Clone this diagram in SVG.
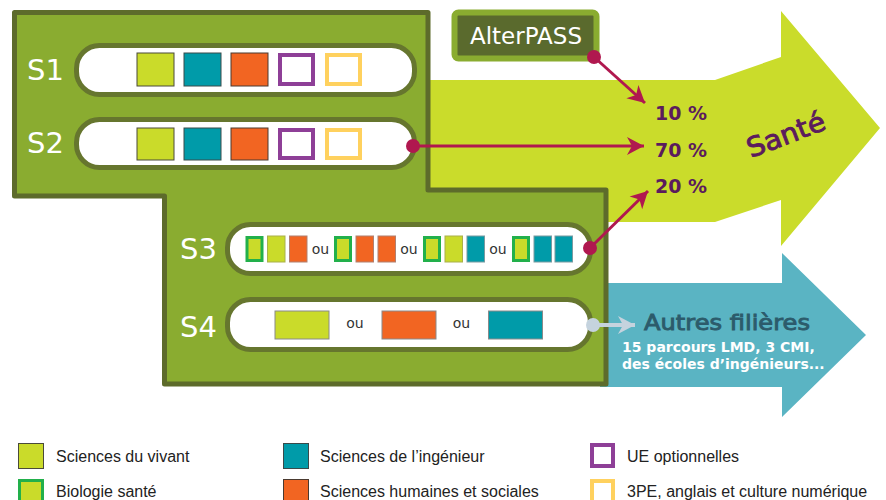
<svg xmlns="http://www.w3.org/2000/svg" width="886" height="500" viewBox="0 0 886 500">
<defs>
<style>
.lime{fill:#cadb2a;stroke:#4a4a3a;stroke-width:1}
.teal{fill:#009ba9;stroke:#3a4a4a;stroke-width:1}
.orng{fill:#f26522;stroke:#4a3a30;stroke-width:1}
.purp{fill:#fff;stroke:#8e3f97;stroke-width:4}
.yell{fill:#fff;stroke:#ffd15e;stroke-width:4}
.bio{fill:#cadb2a;stroke:#22b04b;stroke-width:3}
.lime3{fill:#cadb2a;stroke:#a9b04a;stroke-width:1}
.teal3{fill:#009ba9;stroke:#7a9aa0;stroke-width:1}
.orng3{fill:#f26522;stroke:#b08070;stroke-width:1}
.s4l{fill:#cadb2a;stroke:#8a8a8a;stroke-width:1}
.s4o{fill:#f26522;stroke:#8a8a8a;stroke-width:1}
.s4t{fill:#009ba9;stroke:#8a8a8a;stroke-width:1}
.pill{fill:#fff;stroke:#66762e;stroke-width:5}
.slabel{font-family:"DejaVu Sans",Verdana,sans-serif;font-size:29px;fill:#fff}
.ou{font-family:"DejaVu Sans",Verdana,sans-serif;font-size:14px;fill:#333}
.pct{font-family:"DejaVu Sans",Verdana,sans-serif;font-size:19px;font-weight:bold;fill:#5b1b5d}
.leg{font-family:"Liberation Sans",Arial,sans-serif;font-size:16px;fill:#222}
.crim{stroke:#b0184f;stroke-width:3;fill:none}
.sub{font-family:"DejaVu Sans",Verdana,sans-serif;font-size:14px;font-weight:bold;fill:#fff}
</style>
<marker id="ah" viewBox="-18 -10 20 20" refX="0" refY="0" markerWidth="20" markerHeight="20" markerUnits="userSpaceOnUse" orient="auto">
<path d="M0,0 L-17,-9 L-12,0 L-17,9 Z" fill="#b0184f"/>
</marker>
<marker id="ahg" viewBox="-18 -10 20 20" refX="0" refY="0" markerWidth="20" markerHeight="20" markerUnits="userSpaceOnUse" orient="auto">
<path d="M0,0 L-17,-9 L-12,0 L-17,9 Z" fill="#c5d3de"/>
</marker>
</defs>

<g id="arrow-sante">
<polygon points="420,80 715,80 781,57 781,11 880,128 781,246 781,200 715,222 420,222" fill="#cadc2b"/>
<text transform="translate(786,135) rotate(-21)" y="9" text-anchor="middle" font-family="DejaVu Sans,Verdana,sans-serif" font-size="27" fill="#5b1b5d" stroke="#5b1b5d" stroke-width="0.9" textLength="82" lengthAdjust="spacingAndGlyphs">Santé</text>
</g>

<g id="arrow-autres">
<polygon points="600,283 782,283 782,253 866,335 782,417 782,387 600,387" fill="#5ab4c3"/>
<text x="727" y="330" text-anchor="middle" font-family="DejaVu Sans,Verdana,sans-serif" font-size="22" fill="#2c5b6b" stroke="#2c5b6b" stroke-width="0.9" textLength="166" lengthAdjust="spacingAndGlyphs">Autres filières</text>
<text class="sub" x="622" y="352">15 parcours LMD, 3 CMI,</text>
<text class="sub" x="622" y="369">des écoles d’ingénieurs...</text>
</g>

<g id="cursus">
<path d="M14.5,12.5 H428 V190 H606 V384 H164.5 V196 H14.5 Z" fill="#8aac30" stroke="#5d6b2b" stroke-width="5" stroke-linejoin="round"/>
</g>

<g id="S1">
<rect class="pill" x="76.5" y="45.5" width="338" height="49" rx="23"/>
<text class="slabel" x="27" y="80">S1</text>
<rect class="lime" x="137" y="53" width="37" height="33"/>
<rect class="teal" x="184" y="53" width="37" height="33"/>
<rect class="orng" x="231" y="53" width="37" height="33"/>
<rect class="purp" x="280" y="55" width="33" height="29"/>
<rect class="yell" x="327" y="55" width="33" height="29"/>
</g>

<g id="S2">
<rect class="pill" x="76.5" y="119.5" width="338" height="48" rx="23"/>
<text class="slabel" x="27" y="153">S2</text>
<rect class="lime" x="137" y="128" width="37" height="32"/>
<rect class="teal" x="184" y="128" width="37" height="32"/>
<rect class="orng" x="231" y="128" width="37" height="32"/>
<rect class="purp" x="280" y="130" width="33" height="28"/>
<rect class="yell" x="327" y="130" width="33" height="28"/>
</g>

<g id="S3">
<rect class="pill" x="227.5" y="224.5" width="363" height="49" rx="23"/>
<text class="slabel" x="180" y="259">S3</text>
<rect class="bio" x="247" y="237.5" width="15" height="23"/>
<rect class="lime3" x="267.5" y="236" width="17.5" height="26"/>
<rect class="orng3" x="289.5" y="236" width="17.5" height="26"/>
<text class="ou" x="320.5" y="254" text-anchor="middle">ou</text>
<rect class="bio" x="335.5" y="237.5" width="15" height="23"/>
<rect class="orng3" x="356" y="236" width="17.5" height="26"/>
<rect class="orng3" x="378" y="236" width="17.5" height="26"/>
<text class="ou" x="409" y="254" text-anchor="middle">ou</text>
<rect class="bio" x="424.5" y="237.5" width="15" height="23"/>
<rect class="lime3" x="445" y="236" width="17.5" height="26"/>
<rect class="teal3" x="467" y="236" width="17.5" height="26"/>
<text class="ou" x="498" y="254" text-anchor="middle">ou</text>
<rect class="bio" x="513.5" y="237.5" width="15" height="23"/>
<rect class="teal3" x="534" y="236" width="17.5" height="26"/>
<rect class="teal3" x="555" y="236" width="17.5" height="26"/>
</g>

<g id="S4">
<rect class="pill" x="227.5" y="299.5" width="363" height="50" rx="23"/>
<text class="slabel" x="180" y="337">S4</text>
<rect class="s4l" x="275" y="311" width="54" height="28"/>
<text class="ou" x="355" y="328" text-anchor="middle">ou</text>
<rect class="s4o" x="382" y="311" width="54" height="28"/>
<text class="ou" x="461.5" y="328" text-anchor="middle">ou</text>
<rect class="s4t" x="488.5" y="311" width="54" height="28"/>
</g>

<g id="alterpass">
<rect x="454.5" y="12.5" width="142" height="46" rx="4" fill="#5a6a2d" stroke="#8aac30" stroke-width="6"/>
<text x="526" y="44" text-anchor="middle" font-family="DejaVu Sans,Verdana,sans-serif" font-size="23" fill="#fff">AlterPASS</text>
</g>

<g id="percentages">
<text class="pct" x="655" y="120">10 %</text>
<text class="pct" x="655" y="157">70 %</text>
<text class="pct" x="655" y="193">20 %</text>
</g>

<g id="connectors">
<line class="crim" x1="594" y1="57" x2="645" y2="103" marker-end="url(#ah)"/>
<circle cx="594" cy="57" r="7" fill="#b0184f"/>
<line class="crim" x1="413" y1="146" x2="644" y2="146" marker-end="url(#ah)"/>
<circle cx="413" cy="146" r="7" fill="#b0184f"/>
<line class="crim" x1="590" y1="248" x2="648" y2="191" marker-end="url(#ah)"/>
<circle cx="590" cy="248" r="7" fill="#b0184f"/>
<line x1="593" y1="325" x2="635" y2="325" stroke="#c5d3de" stroke-width="4" marker-end="url(#ahg)"/>
<circle cx="593" cy="325" r="7" fill="#c5d3de"/>
</g>

<g id="legend">
<rect class="lime" x="18.5" y="443.5" width="25" height="25"/>
<text class="leg" x="56" y="462">Sciences du vivant</text>
<rect class="bio" x="19.5" y="480.5" width="23" height="25"/>
<text class="leg" x="56" y="497">Biologie santé</text>
<rect class="teal" x="283.5" y="443.5" width="25" height="25"/>
<text class="leg" x="320" y="462">Sciences de l’ingénieur</text>
<rect class="orng" x="283.5" y="479.5" width="25" height="25"/>
<text class="leg" x="320" y="497">Sciences humaines et sociales</text>
<rect class="purp" x="592" y="445" width="21" height="21"/>
<text class="leg" x="627" y="462">UE optionnelles</text>
<rect class="yell" x="592" y="481" width="21" height="25"/>
<text class="leg" x="627" y="497">3PE, anglais et culture numérique</text>
</g>
</svg>
